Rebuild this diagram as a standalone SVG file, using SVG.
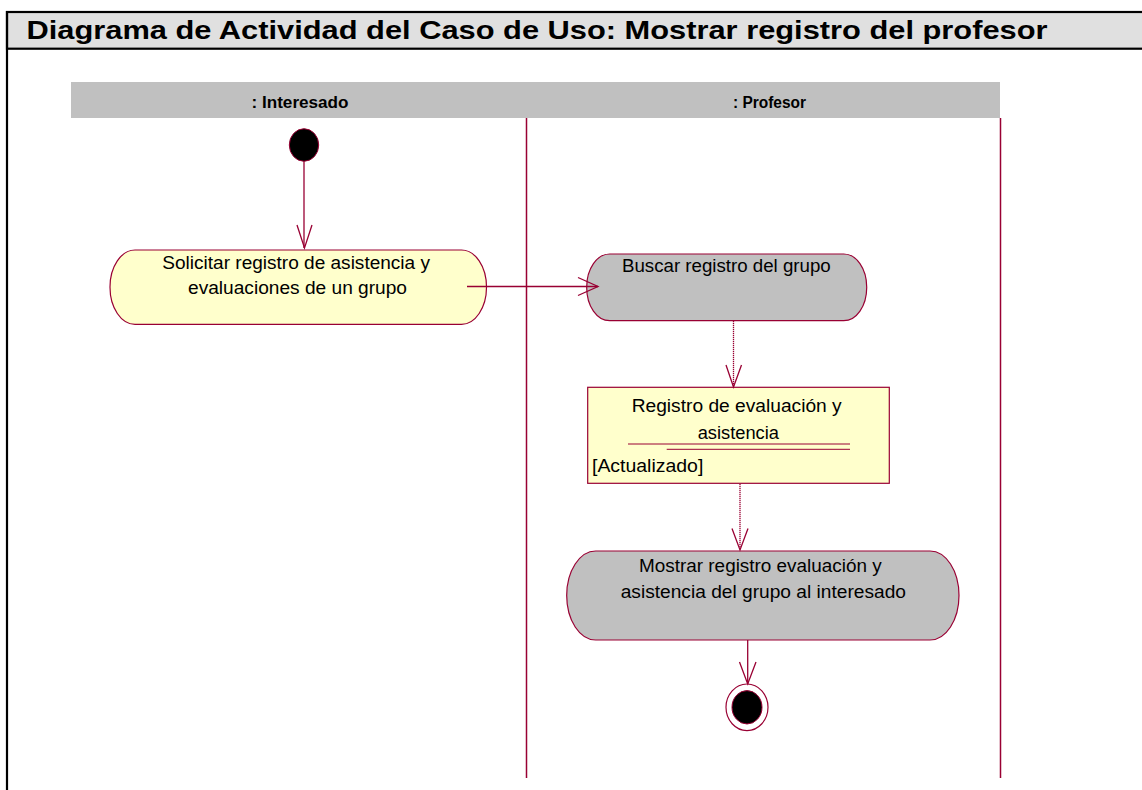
<svg xmlns="http://www.w3.org/2000/svg" width="1142" height="790" viewBox="0 0 1142 790">
<style>
.act{stroke:#990033;stroke-width:1.2}
.y{fill:#ffffcc}
.g{fill:#c0c0c0}
.t{font-family:"Liberation Sans",Arial,sans-serif;font-size:18.7px;fill:#000}
.lane{stroke:#990033;stroke-width:1.5;fill:none}
.edge{stroke:#990033;stroke-width:1.3;fill:none}
.dot{stroke:#990033;stroke-width:1.3;fill:none;stroke-dasharray:1.2,0.8}
.hd{font-family:"Liberation Sans",Arial,sans-serif;font-weight:bold;font-size:16px;fill:#000}
</style>
<rect x="0" y="0" width="1142" height="790" fill="#ffffff"/>
<g id="frame">
<rect x="7" y="12" width="1140" height="36.7" fill="#e0e0e0" stroke="#000" stroke-width="2.2"/>
<line x1="7" y1="11" x2="7" y2="790" stroke="#000" stroke-width="2.2"/>
<text x="26.5" y="39" font-family="Liberation Sans,Arial,sans-serif" font-weight="bold" font-size="26.5" textLength="1021" lengthAdjust="spacingAndGlyphs">Diagrama de Actividad del Caso de Uso: Mostrar registro del profesor</text>
</g>
<g id="swimlanes">
<rect x="71" y="82" width="929" height="36" fill="#c0c0c0"/>
<text class="hd" x="251.5" y="108" textLength="97" lengthAdjust="spacingAndGlyphs">: Interesado</text>
<text class="hd" x="733" y="108" textLength="73" lengthAdjust="spacingAndGlyphs">: Profesor</text>
<line class="lane" x1="526.5" y1="118" x2="526.5" y2="778"/>
<line class="lane" x1="1000.5" y1="118" x2="1000.5" y2="778"/>
</g>
<g id="start">
<ellipse cx="304" cy="145" rx="14.7" ry="16.3" fill="#000" stroke="#990033" stroke-width="1"/>
</g>
<g id="solicitar">
<rect class="act y" x="110" y="250" width="376.5" height="74.3" rx="25" ry="37"/>
<text class="t" x="162.3" y="269" textLength="267.7" lengthAdjust="spacingAndGlyphs">Solicitar registro de asistencia y</text>
<text class="t" x="188" y="294" textLength="219" lengthAdjust="spacingAndGlyphs">evaluaciones de un grupo</text>
</g>
<g id="buscar">
<rect class="act g" x="586.7" y="254" width="280" height="66.7" rx="23" ry="33"/>
<text class="t" x="622" y="272.3" textLength="208.7" lengthAdjust="spacingAndGlyphs">Buscar registro del grupo</text>
</g>
<g id="registro">
<rect class="act y" x="587.7" y="387.3" width="301.6" height="96"/>
<text class="t" x="631.7" y="411.7" textLength="210" lengthAdjust="spacingAndGlyphs">Registro de evaluación y</text>
<text class="t" x="697.7" y="438.5" textLength="81.3" lengthAdjust="spacingAndGlyphs">asistencia</text>
<line x1="628" y1="444" x2="850" y2="444" stroke="#990033" stroke-width="1"/>
<line x1="666.7" y1="449.3" x2="850" y2="449.3" stroke="#990033" stroke-width="1"/>
<text class="t" x="592" y="472" textLength="111.3" lengthAdjust="spacingAndGlyphs">[Actualizado]</text>
</g>
<g id="mostrar">
<rect class="act g" x="566.7" y="551" width="392.3" height="89" rx="29" ry="44.5"/>
<text class="t" x="639" y="572" textLength="242.7" lengthAdjust="spacingAndGlyphs">Mostrar registro evaluación y</text>
<text class="t" x="620.7" y="598" textLength="285.3" lengthAdjust="spacingAndGlyphs">asistencia del grupo al interesado</text>
</g>
<g id="end">
<ellipse cx="747" cy="707.3" rx="21" ry="23.3" fill="#fff" stroke="#990033" stroke-width="1.2"/>
<ellipse cx="747" cy="707.3" rx="15" ry="16.7" fill="#000" stroke="#990033" stroke-width="1"/>
</g>
<g id="connectors">
<line class="edge" x1="304" y1="161" x2="304" y2="248"/>
<polyline class="edge" points="297,225 304.5,248 312,225"/>
<line class="edge" x1="467" y1="286.5" x2="598" y2="286.5"/>
<polyline class="edge" points="578,277.5 598,286.5 578,295.5"/>
<line class="dot" x1="733.5" y1="321" x2="733.5" y2="387"/>
<polyline class="edge" points="726,365 733.5,387 741.5,365"/>
<line class="dot" x1="740" y1="484" x2="740" y2="550"/>
<polyline class="edge" points="732,528.5 740,550 748,528.5"/>
<line class="edge" x1="747.7" y1="640" x2="747.7" y2="684"/>
<polyline class="edge" points="739.5,662 747.7,684 756,662"/>
</g>
</svg>
